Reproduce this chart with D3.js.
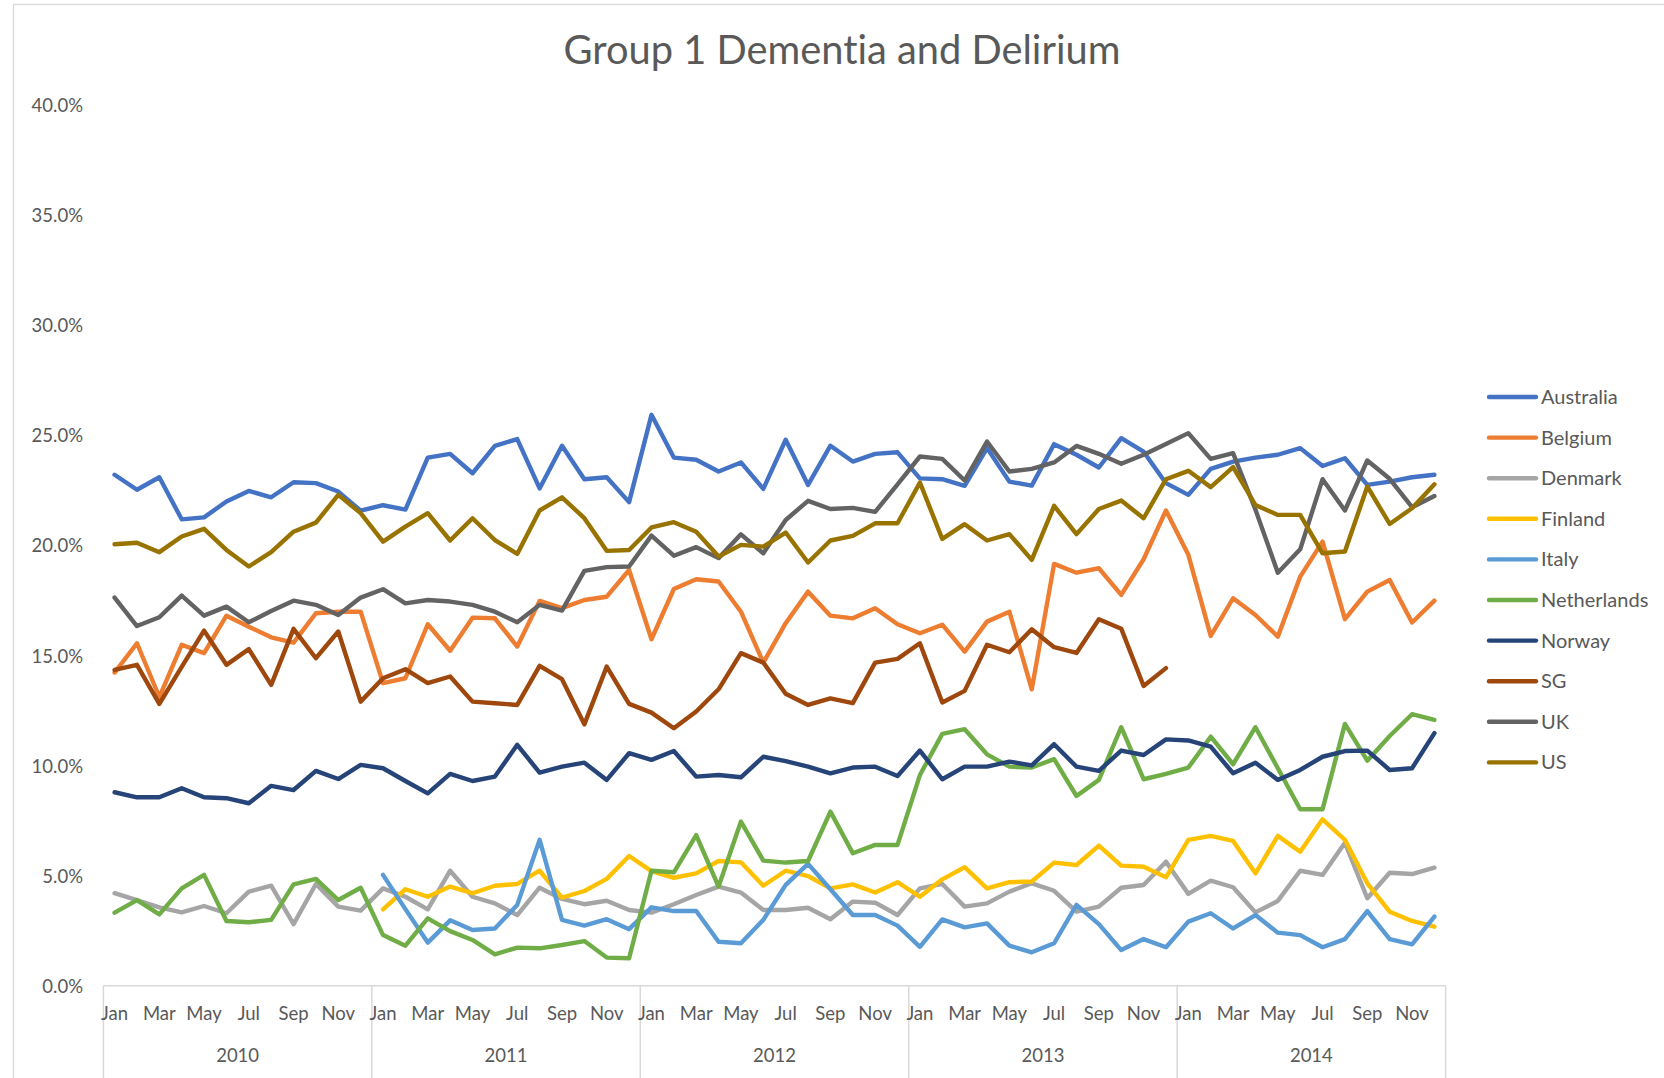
<!DOCTYPE html>
<html>
<head>
<meta charset="utf-8">
<script src="https://cdn.jsdelivr.net/npm/d3@7/dist/d3.min.js"></script>
<style>
  body { margin: 0; background: #ffffff; }
  svg text { font-family: Lato, "Open Sans", "DejaVu Sans", sans-serif; fill: #595959; font-variant-ligatures: none; }
</style>
</head>
<body>
<svg id="chart" width="1664" height="1078"></svg>
<script>
// ---------------- DATA ----------------
const title = "Group 1 Dementia and Delirium";
const months = ["Jan","Feb","Mar","Apr","May","Jun","Jul","Aug","Sep","Oct","Nov","Dec"];
const years = ["2010","2011","2012","2013","2014"];
const yTickValues = [0, 5, 10, 15, 20, 25, 30, 35, 40];
const seriesNames = ["Australia","Belgium","Denmark","Finland","Italy","Netherlands","Norway","SG","UK","US"];

const australia = [23.18,22.5,23.07,21.16,21.25,21.97,22.45,22.16,22.84,22.8,22.42,21.55,
  21.8,21.6,23.96,24.13,23.25,24.49,24.8,22.56,24.5,22.98,23.07,21.94,
  25.9,23.96,23.86,23.33,23.74,22.54,24.77,22.72,24.5,23.78,24.13,24.2,
  23.02,22.98,22.68,24.39,22.87,22.69,24.57,24.09,23.51,24.84,24.23,22.8,
  22.27,23.45,23.78,23.96,24.09,24.39,23.58,23.93,22.72,22.87,23.07,23.18];
const belgium = [14.21,15.54,13.1,15.47,15.09,16.79,16.29,15.81,15.57,16.9,16.97,16.97,
  13.73,13.95,16.4,15.2,16.7,16.67,15.39,17.46,17.13,17.5,17.65,18.86,
  15.72,18.0,18.44,18.34,16.97,14.66,16.45,17.88,16.79,16.67,17.13,16.4,
  15.99,16.38,15.16,16.52,16.97,13.45,19.14,18.74,18.94,17.73,19.35,21.56,
  19.55,15.87,17.58,16.82,15.84,18.56,20.15,16.63,17.88,18.41,16.48,17.47];
const denmark = [4.2,3.89,3.56,3.33,3.62,3.29,4.27,4.54,2.8,4.62,3.59,3.41,
  4.42,4.04,3.47,5.22,4.04,3.74,3.21,4.45,3.94,3.7,3.86,3.44,
  3.32,3.7,4.12,4.5,4.23,3.44,3.44,3.54,3.02,3.82,3.77,3.21,
  4.42,4.62,3.59,3.74,4.27,4.65,4.31,3.36,3.59,4.45,4.57,5.63,
  4.17,4.77,4.47,3.33,3.85,5.22,5.03,6.49,3.97,5.13,5.07,5.36];
const finland = [null,null,null,null,null,null,null,null,null,null,null,null,
  3.47,4.38,4.04,4.5,4.2,4.54,4.62,5.22,4.0,4.3,4.85,5.89,
  5.2,4.9,5.1,5.66,5.6,4.54,5.22,4.98,4.42,4.6,4.23,4.7,
  4.04,4.83,5.38,4.42,4.7,4.73,5.59,5.48,6.36,5.45,5.4,4.92,
  6.62,6.8,6.57,5.1,6.8,6.08,7.55,6.62,4.65,3.36,2.94,2.68];
const italy = [null,null,null,null,null,null,null,null,null,null,null,null,
  5.03,3.48,1.96,2.97,2.53,2.6,3.67,6.62,2.99,2.73,3.02,2.57,
  3.56,3.39,3.39,2.0,1.93,2.99,4.58,5.53,4.38,3.21,3.21,2.73,
  1.77,3.01,2.65,2.83,1.82,1.52,1.93,3.67,2.8,1.62,2.12,1.75,
  2.91,3.29,2.6,3.21,2.41,2.3,1.75,2.12,3.39,2.12,1.88,3.14];
const netherlands = [3.32,3.89,3.24,4.42,5.03,2.94,2.88,2.99,4.6,4.85,3.89,4.45,
  2.3,1.82,3.06,2.48,2.08,1.43,1.73,1.7,1.85,2.03,1.28,1.25,
  5.22,5.15,6.84,4.5,7.45,5.68,5.59,5.66,7.9,6.01,6.39,6.39,
  9.56,11.43,11.64,10.5,9.94,9.9,10.28,8.61,9.34,11.73,9.37,9.61,
  9.9,11.3,10.05,11.73,9.87,8.01,8.01,11.88,10.21,11.33,12.32,12.06];
const norway = [8.78,8.55,8.55,8.96,8.55,8.51,8.28,9.07,8.88,9.75,9.38,10.02,
  9.87,9.29,8.73,9.61,9.29,9.49,10.93,9.67,9.94,10.12,9.34,10.55,
  10.25,10.65,9.49,9.56,9.46,10.39,10.19,9.94,9.64,9.9,9.94,9.52,
  10.67,9.37,9.94,9.94,10.17,10.0,10.96,9.94,9.75,10.67,10.47,11.18,
  11.13,10.85,9.64,10.12,9.34,9.79,10.39,10.65,10.67,9.79,9.87,11.46];
const sg = [14.33,14.56,12.79,14.47,16.11,14.56,15.27,13.65,16.19,14.86,16.07,12.89,
  13.95,14.36,13.73,14.03,12.89,12.82,12.74,14.51,13.91,11.86,14.48,12.79,
  12.39,11.68,12.44,13.45,15.09,14.66,13.25,12.74,13.04,12.82,14.66,14.83,
  15.54,12.85,13.38,15.47,15.13,16.17,15.36,15.1,16.63,16.2,13.6,14.41,
  null,null,null,null,null,null,null,null,null,null,null,null];
const uk = [17.61,16.32,16.72,17.7,16.79,17.2,16.49,17.0,17.47,17.28,16.82,17.61,
  17.99,17.35,17.5,17.43,17.28,16.97,16.49,17.28,17.02,18.82,18.99,19.02,
  20.42,19.51,19.9,19.4,20.48,19.62,21.13,22.0,21.63,21.68,21.5,22.75,
  24.01,23.9,22.92,24.69,23.33,23.45,23.74,24.49,24.13,23.68,24.09,24.58,
  25.07,23.9,24.16,21.6,18.74,19.8,22.98,21.56,23.83,23.0,21.71,22.22];
const us = [20.03,20.1,19.67,20.38,20.73,19.77,19.02,19.67,20.6,21.01,22.27,21.44,
  20.15,20.83,21.44,20.2,21.21,20.22,19.59,21.56,22.16,21.21,19.73,19.77,
  20.79,21.03,20.6,19.47,20.0,19.92,20.56,19.2,20.2,20.41,20.98,20.98,
  22.83,20.27,20.94,20.2,20.49,19.32,21.77,20.49,21.63,22.01,21.21,22.98,
  23.36,22.62,23.53,21.81,21.36,21.36,19.62,19.7,22.65,20.95,21.66,22.75];

const seriesValues = [australia, belgium, denmark, finland, italy, netherlands, norway, sg, uk, us];
const seriesColors = ["#4472C4","#ED7D31","#A5A5A5","#FFC000","#5B9BD5","#70AD47","#264478","#9E480E","#636363","#997300"];

// ---------------- CHART ----------------
const categories = years.flatMap(y => months.map(m => y + "-" + m));
const svg = d3.select("#chart");

const plotLeft = 103.4, plotRight = 1445.6, plotTop = 104, plotBottom = 985.8;
const axisColor = "#d9d9d9";

// chart area border
svg.append("rect").attr("x", 13.5).attr("y", 4.5).attr("width", 1800).attr("height", 1200)
  .attr("fill", "none").attr("stroke", axisColor).attr("stroke-width", 1.3);

const x = d3.scaleBand().domain(categories).range([plotLeft, plotRight]).paddingInner(0).paddingOuter(0);
const y = d3.scaleLinear().domain([0, 40]).range([plotBottom, plotTop]);
const cx = c => x(c) + x.bandwidth() / 2;

// title
svg.append("text").attr("x", 842).attr("y", 64).attr("text-anchor", "middle")
  .style("font-size", "39.8px").text(title);

// y axis
const yAxis = svg.append("g").attr("transform", `translate(86,0)`)
  .call(d3.axisLeft(y).tickValues(yTickValues).tickSize(0).tickPadding(3)
    .tickFormat(d => d.toFixed(1) + "%"));
yAxis.select(".domain").remove();
yAxis.selectAll("text").style("font-size", "18.5px").attr("fill", "#595959").attr("dy", "0.38em");

// x axis baseline + year separators
svg.append("line").attr("x1", plotLeft).attr("x2", plotRight).attr("y1", plotBottom).attr("y2", plotBottom)
  .attr("stroke", axisColor).attr("stroke-width", 1.5);
const boundaries = years.map(yr => x(yr + "-Jan")).concat([plotRight]);
svg.selectAll("line.sep").data(boundaries).join("line").attr("class", "sep")
  .attr("x1", d => d).attr("x2", d => d).attr("y1", plotBottom).attr("y2", 1078)
  .attr("stroke", axisColor).attr("stroke-width", 1.5);

// month labels
const xAxis = svg.append("g").attr("transform", `translate(0,${plotBottom})`)
  .call(d3.axisBottom(x).tickSize(0).tickPadding(21)
    .tickFormat((d, i) => i % 2 === 0 ? d.split("-")[1] : ""));
xAxis.select(".domain").remove();
xAxis.selectAll("text").style("font-size", "18.5px").attr("fill", "#595959");

// year labels
svg.selectAll("text.year").data(years).join("text").attr("class", "year")
  .attr("x", yr => (x(yr + "-Jan") + x(yr + "-Dec") + x.bandwidth()) / 2)
  .attr("y", 1062).attr("text-anchor", "middle").style("font-size", "18.5px")
  .text(d => d);

// series lines
const line = d3.line()
  .defined(d => d.v != null)
  .x(d => cx(d.c))
  .y(d => y(d.v));

seriesNames.forEach((name, si) => {
  const pts = seriesValues[si].map((v, i) => ({ c: categories[i], v }));
  svg.append("path").datum(pts)
    .attr("fill", "none").attr("stroke", seriesColors[si])
    .attr("stroke-width", 4.4).attr("stroke-linejoin", "round").attr("stroke-linecap", "round")
    .attr("d", line);
});

// legend
const legend = svg.append("g");
seriesNames.forEach((name, si) => {
  const ly = 397 + si * 40.6;
  legend.append("line").attr("x1", 1489).attr("x2", 1536).attr("y1", ly).attr("y2", ly)
    .attr("stroke", seriesColors[si]).attr("stroke-width", 4.4).attr("stroke-linecap", "round");
  legend.append("text").attr("x", 1541).attr("y", ly + 7).style("font-size", "20px").text(name);
});
</script>
</body>
</html>
